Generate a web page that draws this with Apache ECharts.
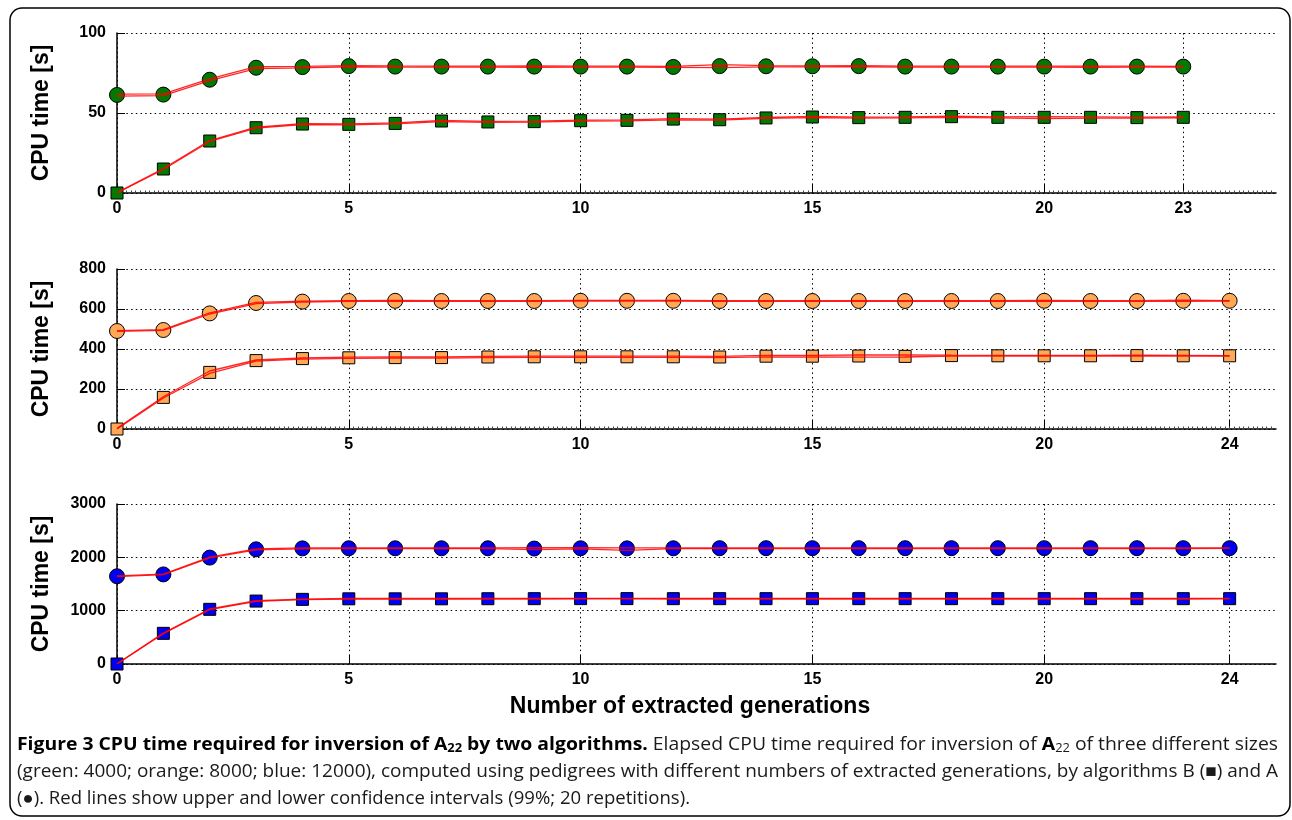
<!DOCTYPE html>
<html><head><meta charset="utf-8">
<script src="https://cdn.jsdelivr.net/npm/echarts@6/dist/echarts.min.js"></script>
<style>html,body{margin:0;padding:0;background:#fff}#c{width:1292px;height:820px}</style>
</head><body><div id="c"></div>
<script>
// ---------- data ----------
const gens23 = [0,1,2,3,4,5,6,7,8,9,10,11,12,13,14,15,16,17,18,19,20,21,22,23];
const gens24 = [0,1,2,3,4,5,6,7,8,9,10,11,12,13,14,15,16,17,18,19,20,21,22,23,24];
const xTicks23 = [0,5,10,15,20,23];
const xTicks24 = [0,5,10,15,20,24];

// green: 4000
const greenA      = [61.3,61.5,70.8,78.3,78.7,79.3,79.0,79.0,79.0,79.0,79.0,79.0,78.8,79.3,79.2,79.2,79.3,79.0,79.0,79.0,79.0,79.0,79.0,79.0];
const greenAUpper = [61.8,62.0,71.3,79.0,79.2,79.6,79.4,79.3,79.3,79.4,79.3,79.3,79.2,80.2,79.6,79.5,79.6,79.3,79.3,79.3,79.3,79.3,79.3,79.2];
const greenALower = [60.6,60.9,70.2,77.8,78.2,78.9,78.7,78.7,78.7,78.6,78.7,78.7,78.5,78.3,78.8,78.8,78.9,78.7,78.7,78.7,78.7,78.6,78.7,78.7];
const greenB      = [0,15.0,32.5,40.8,43.1,42.9,43.5,45.0,44.4,44.6,45.2,45.4,46.2,45.8,46.9,47.5,47.1,47.3,47.7,47.3,47.3,47.3,47.1,47.3];
const greenBUpper = [0.2,15.3,32.8,41.1,43.4,43.2,43.8,45.3,44.8,44.9,45.5,45.7,46.5,46.2,47.2,47.8,47.4,47.6,48.0,47.6,47.7,47.6,47.4,47.5];
const greenBLower = [0,14.7,32.2,40.5,42.8,42.6,43.2,44.6,44.1,44.3,44.9,45.1,45.7,45.5,46.6,47.1,46.8,47.0,47.3,47.0,46.5,46.8,46.8,47.0];

// orange: 8000
const orangeA      = [490,495,578,630,637,640,641,640,640,640,641,641,641,640,640,640,640,640,640,640,641,640,640,641,641];
const orangeAUpper = [492,497,581,633,639,642,643,642,642,642,643,643,643,642,642,642,642,642,642,642,643,642,642,644,642];
const orangeALower = [488,493,575,627,635,638,639,638,638,638,639,639,639,638,638,638,638,638,638,638,639,638,638,638,640];
const orangeB      = [0,158,283,342,352,356,357,357,360,361,361,361,361,360,364,364,365,363,367,366,366,366,367,366,366];
const orangeBUpper = [3,161,290,345,355,359,360,360,363,364,364,364,364,363,368,368,370,371,369,368,368,368,369,368,367];
const orangeBLower = [0,155,278,339,349,353,354,354,357,358,358,358,358,357,361,360,359,360,365,364,364,364,365,364,365];

// blue: 12000
const blueA      = [1645,1680,1995,2150,2168,2170,2170,2170,2170,2165,2170,2168,2170,2172,2172,2172,2172,2172,2172,2172,2172,2172,2172,2172,2172];
const blueAUpper = [1652,1686,2002,2158,2176,2178,2178,2178,2178,2180,2182,2176,2178,2179,2179,2179,2179,2179,2179,2179,2179,2179,2179,2179,2179];
const blueALower = [1638,1674,1988,2142,2160,2162,2162,2162,2162,2145,2158,2130,2162,2165,2165,2165,2165,2165,2165,2165,2165,2165,2165,2165,2168];
const blueB      = [0,575,1025,1180,1212,1222,1222,1222,1224,1225,1226,1226,1225,1225,1225,1225,1225,1225,1225,1225,1225,1225,1225,1225,1225];
const blueBUpper = [4,580,1031,1186,1218,1228,1228,1228,1230,1231,1232,1232,1231,1231,1231,1231,1231,1231,1231,1231,1231,1231,1231,1231,1230];
const blueBLower = [0,570,1019,1174,1206,1216,1216,1216,1218,1219,1220,1220,1219,1219,1219,1219,1219,1219,1219,1219,1219,1219,1219,1219,1220];

const yMax = [100, 800, 3000];
const yStep = [50, 200, 1000];

const yName = 'CPU time [s]';
const xName = 'Number of extracted generations';
const captionLines = [
  [['Figure 3 CPU time required for inversion of A','b'],['22','bs'],[' by two algorithms.','b'],[' Elapsed CPU time required for inversion of ','r'],['A','b'],['22','rs'],[' of three different sizes','r']],
  [['(green: 4000; orange: 8000; blue: 12000), computed using pedigrees with different numbers of extracted generations, by algorithms B (\u25A0) and A','r']],
  [['(\u25CF). Red lines show upper and lower confidence intervals (99%; 20 repetitions).','r']]
];

// ---------- layout / style ----------
const AX = '"Liberation Sans", Arial, sans-serif';
const CAP = '"Open Sans", sans-serif';
const gridTops = [33, 269, 504];
const dots = { type: [1.5, 3.2], color: '#000', width: 1 };

const grids = gridTops.map(t => ({ left: 117, width: 1159, top: t, height: 160 }));
const xAxes = [xTicks23, xTicks24, xTicks24].map((tv, i) => ({
  type: 'value', gridIndex: i, min: 0, max: 25, interval: 5,
  axisLine: { show: true, lineStyle: { color: '#000', width: 1.5 } },
  axisTick: { show: true, inside: true, length: 9, customValues: tv, lineStyle: { color: '#000', width: 1 } },
  minorTick: { show: i < 2, splitNumber: 50, length: 2.5, lineStyle: { color: '#444', width: 1 } },
  axisLabel: { customValues: tv, color: '#000', fontFamily: AX, fontWeight: 'bold', fontSize: 16, margin: 8 },
  splitLine: { show: true, lineStyle: dots }
}));
const yAxes = yMax.map((m, i) => ({
  type: 'value', gridIndex: i, min: 0, max: m, interval: yStep[i],
  axisLine: { show: true, lineStyle: { color: '#000', width: 1.5 } },
  axisTick: { show: true, inside: true, length: 8, lineStyle: { color: '#000', width: 1 } },
  axisLabel: { color: '#000', fontFamily: AX, fontWeight: 'bold', fontSize: 16, margin: 11, formatter: v => String(v) },
  splitLine: { show: true, lineStyle: dots },
  name: yName, nameLocation: 'middle', nameGap: 64,
  nameTextStyle: { color: '#000', fontFamily: AX, fontWeight: 'bold', fontSize: 23 }
}));

function pts(xs, ys) { return xs.map((x, k) => [x, ys[k]]); }
function markers(g, xs, ys, symbol, size, color) {
  return { type: 'scatter', xAxisIndex: g, yAxisIndex: g, z: 2, symbol, symbolSize: size,
    itemStyle: { color, borderColor: '#000', borderWidth: 1, opacity: 1 },
    data: pts(xs, ys), silent: true };
}
function ciLine(g, xs, ys) {
  return { type: 'line', xAxisIndex: g, yAxisIndex: g, z: 3, symbol: 'none',
    lineStyle: { color: '#ff0000', width: 1.3, opacity: 0.85 },
    data: pts(xs, ys), silent: true };
}

const series = [
  markers(0, gens23, greenA, 'circle', 15, '#007a00'),
  markers(0, gens23, greenB, 'rect', 12, '#007a00'),
  markers(1, gens24, orangeA, 'circle', 15, '#ffa957'),
  markers(1, gens24, orangeB, 'rect', 12, '#ffa957'),
  markers(2, gens24, blueA, 'circle', 15, '#0000f0'),
  markers(2, gens24, blueB, 'rect', 12, '#0000f0'),
  ciLine(0, gens23, greenAUpper), ciLine(0, gens23, greenALower),
  ciLine(0, gens23, greenBUpper), ciLine(0, gens23, greenBLower),
  ciLine(1, gens24, orangeAUpper), ciLine(1, gens24, orangeALower),
  ciLine(1, gens24, orangeBUpper), ciLine(1, gens24, orangeBLower),
  ciLine(2, gens24, blueAUpper), ciLine(2, gens24, blueALower),
  ciLine(2, gens24, blueBUpper), ciLine(2, gens24, blueBLower)
];

// ---------- caption (rich text, fitted to width) ----------
const capSize = 18, subSize = 12;
const tokStyle = {
  b:  { fontWeight: 'bold',   fontSize: capSize, lineHeight: 20, fontFamily: CAP, fill: '#000' },
  r:  { fontWeight: 'normal', fontSize: capSize, lineHeight: 20, fontFamily: CAP, fill: '#1a1a1a' },
  bs: { fontWeight: 'bold',   fontSize: subSize, lineHeight: 12, verticalAlign: 'bottom', fontFamily: CAP, fill: '#000' },
  rs: { fontWeight: 'normal', fontSize: subSize, lineHeight: 12, verticalAlign: 'bottom', fontFamily: CAP, fill: '#1a1a1a' }
};
const mctx = document.createElement('canvas').getContext('2d');
function measure(segs) {
  let w = 0;
  segs.forEach(([t, s]) => { const st = tokStyle[s]; mctx.font = st.fontWeight + ' ' + st.fontSize + 'px ' + CAP; w += mctx.measureText(t).width; });
  return w;
}
const capTargets = [1261, 1261, 673];
const capY = [745, 772, 799];
const captionGraphics = captionLines.map((segs, i) => ({
  type: 'text', x: 17, y: capY[i], scaleX: capTargets[i] / measure(segs),
  style: {
    text: segs.map(([t, s]) => '{' + s + '|' + t + '}').join(''),
    rich: tokStyle, fontFamily: CAP, fontSize: capSize, fill: '#000', verticalAlign: 'middle', align: 'left'
  }
}));

const option = {
  animation: false,
  backgroundColor: '#fff',
  grid: grids, xAxis: xAxes, yAxis: yAxes, series,
  graphic: [
    { type: 'rect', shape: { x: 10, y: 8, width: 1280, height: 808, r: 12 }, style: { fill: 'none', stroke: '#000', lineWidth: 1.5 }, z: -1 },
    { type: 'text', x: 690, y: 707, style: { text: xName, fontFamily: AX, fontWeight: 'bold', fontSize: 23, fill: '#000', align: 'center', verticalAlign: 'middle' } },
    ...captionGraphics
  ]
};
const chart = echarts.init(document.getElementById('c'), null, { renderer: 'canvas' });
chart.setOption(option);
</script></body></html>
